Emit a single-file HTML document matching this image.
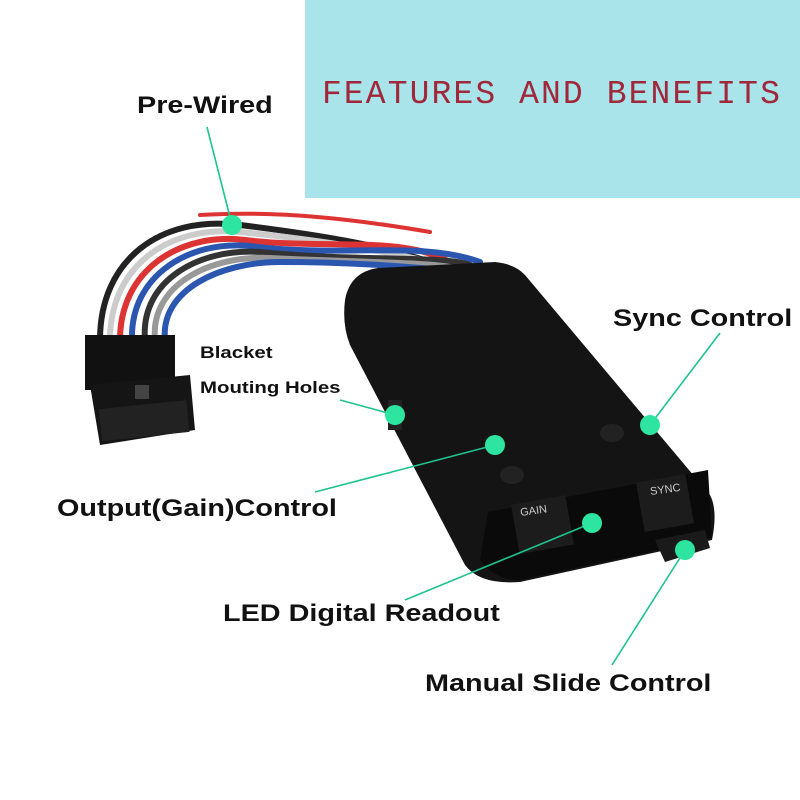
<!DOCTYPE html>
<html><head><style>
body{margin:0;background:#fff;}
.wrap{position:relative;width:800px;height:800px;overflow:hidden;background:#fff;font-family:"Liberation Sans",sans-serif;}
.lbl{position:absolute;font-weight:bold;color:#111;white-space:nowrap;transform:scaleX(1.2);transform-origin:0 0;}
</style></head><body><div class="wrap">
<div style="position:absolute;left:305px;top:0;width:495px;height:198px;background:#a8e4ea;"></div>
<div style="position:absolute;left:322px;top:76px;font-family:'Liberation Mono',monospace;font-size:33px;color:#a0283a;letter-spacing:2.1px;">FEATURES AND BENEFITS</div>
<svg width="800" height="800" style="position:absolute;left:0;top:0">
<g fill="none" stroke-linecap="round" stroke-width="6">
<path d="M100,340 C100,260 160,215 240,225 C320,235 380,245 430,262" stroke="#222"/>
<path d="M110,340 C110,265 170,225 240,232 C320,240 380,250 440,264" stroke="#ccc"/>
<path d="M120,340 C120,270 180,232 245,240 C330,250 400,235 450,262" stroke="#d33"/>
<path d="M132,340 C130,275 190,240 250,246 C340,258 420,240 480,262" stroke="#2a56b0"/>
<path d="M145,340 C140,280 200,248 260,252 C360,262 440,255 470,265" stroke="#333"/>
<path d="M155,340 C150,285 210,255 270,258 C350,262 430,262 455,268" stroke="#999"/>
<path d="M165,340 C160,290 220,262 280,262 C360,262 420,268 445,270" stroke="#2a56b0"/>
<path d="M200,215 C280,210 360,220 430,232" stroke="#d33" stroke-width="4"/>
</g>
<rect x="85" y="335" width="90" height="55" fill="#111"/>
<path d="M90,385 L190,375 L195,430 L100,445 Z" fill="#151515"/>
<rect x="100" y="405" width="88" height="32" fill="#222" transform="rotate(-6 140 420)"/>
<rect x="135" y="385" width="14" height="14" fill="#444"/>
<path d="M345,300 Q350,272 378,268 L495,262 Q515,264 525,275 L710,495 Q718,510 712,540 L520,582 Q480,585 465,565 L350,345 Q342,325 345,300 Z" fill="#141414"/>
<path d="M488,512 L708,470 L712,538 L520,580 Q495,580 480,560 Z" fill="#0a0a0a"/>
<rect x="515" y="500" width="55" height="50" fill="#1c1c1c" transform="rotate(-10 540 525)"/>
<rect x="640" y="478" width="50" height="50" fill="#1c1c1c" transform="rotate(-10 665 503)"/>
<text x="520" y="514" font-size="11" fill="#ccc" transform="rotate(-8 535 510)">GAIN</text>
<text x="650" y="493" font-size="11" fill="#ccc" transform="rotate(-8 665 490)">SYNC</text>
<path d="M655,540 L705,530 L710,548 L665,562 Z" fill="#1a1a1a"/>
<ellipse cx="512" cy="475" rx="12" ry="9" fill="#222"/>
<ellipse cx="612" cy="433" rx="12" ry="9" fill="#222"/>
<rect x="388" y="400" width="14" height="30" fill="#222"/>
<g stroke="#1ec38f" stroke-width="1.6" fill="none">
<line x1="207" y1="127" x2="232" y2="225"/>
<line x1="340" y1="400" x2="395" y2="415"/>
<line x1="315" y1="492" x2="495" y2="445"/>
<line x1="720" y1="333" x2="650" y2="425"/>
<line x1="405" y1="600" x2="592" y2="523"/>
<line x1="612" y1="665" x2="685" y2="550"/>
</g>
<g fill="#2de5a0">
<circle cx="232" cy="225" r="10"/><circle cx="395" cy="415" r="10"/>
<circle cx="495" cy="445" r="10"/><circle cx="650" cy="425" r="10"/>
<circle cx="592" cy="523" r="10"/><circle cx="685" cy="550" r="10"/>
</g>
</svg>
<div class="lbl" style="left:137px;top:92px;font-size:24px;">Pre-Wired</div>
<div class="lbl" style="left:613px;top:305px;font-size:24px;">Sync Control</div>
<div class="lbl" style="left:200px;top:343px;font-size:17px;">Blacket</div>
<div class="lbl" style="left:200px;top:378px;font-size:17px;">Mouting Holes</div>
<div class="lbl" style="left:57px;top:495px;font-size:24px;">Output(Gain)Control</div>
<div class="lbl" style="left:223px;top:600px;font-size:24px;">LED Digital Readout</div>
<div class="lbl" style="left:425px;top:670px;font-size:24px;">Manual Slide Control</div>
</div></body></html>
